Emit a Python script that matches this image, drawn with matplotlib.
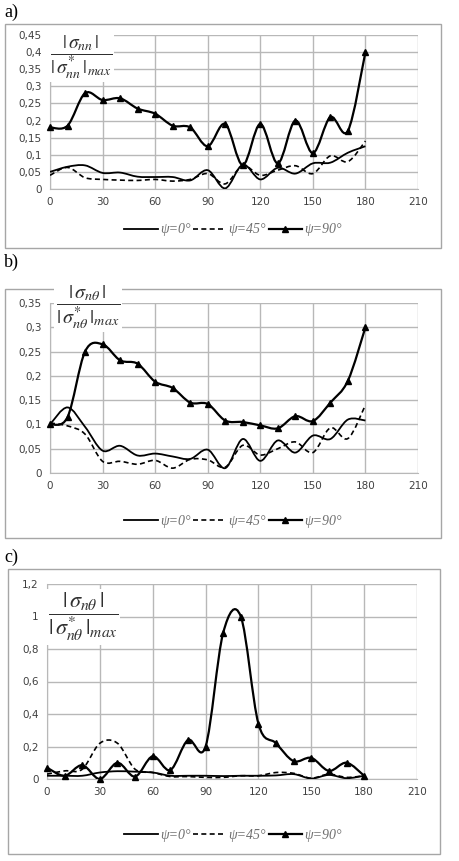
import matplotlib
matplotlib.use("Agg")
import matplotlib.pyplot as plt
from matplotlib.path import Path
from matplotlib.patches import PathPatch, Rectangle
from matplotlib.lines import Line2D
import numpy as np

plt.rcParams['mathtext.fontset'] = 'stix'

# angle values (deg)
angles = list(range(0, 190, 10))
x_ticks = [0, 30, 60, 90, 120, 150, 180, 210]

# panel a) |sigma_nn| / |sigma*_nn|max
a_psi0 = [0.050, 0.065, 0.069, 0.047, 0.048, 0.036, 0.035, 0.035, 0.025, 0.055,
          0.002, 0.071, 0.028, 0.062, 0.045, 0.075, 0.077, 0.106, 0.125]
a_psi45 = [0.040, 0.063, 0.033, 0.028, 0.026, 0.025, 0.028, 0.023, 0.028, 0.045,
           0.015, 0.068, 0.040, 0.055, 0.068, 0.045, 0.097, 0.080, 0.140]
a_psi90 = [0.180, 0.185, 0.280, 0.260, 0.265, 0.235, 0.220, 0.185, 0.180, 0.125,
           0.190, 0.070, 0.190, 0.075, 0.200, 0.105, 0.210, 0.170, 0.400]
a_yticks = [0, 0.05, 0.1, 0.15, 0.2, 0.25, 0.3, 0.35, 0.4, 0.45]

# panel b) |sigma_ntheta| / |sigma*_ntheta|max
b_psi0 = [0.100, 0.135, 0.095, 0.046, 0.056, 0.036, 0.040, 0.034, 0.029, 0.048,
          0.010, 0.070, 0.025, 0.067, 0.042, 0.077, 0.070, 0.110, 0.108]
b_psi45 = [0.103, 0.097, 0.080, 0.024, 0.024, 0.018, 0.026, 0.010, 0.028, 0.027,
           0.012, 0.057, 0.037, 0.050, 0.064, 0.042, 0.093, 0.071, 0.140]
b_psi90 = [0.100, 0.115, 0.250, 0.265, 0.232, 0.225, 0.188, 0.175, 0.145, 0.142,
           0.108, 0.105, 0.098, 0.092, 0.117, 0.107, 0.145, 0.190, 0.300]
b_yticks = [0, 0.05, 0.1, 0.15, 0.2, 0.25, 0.3, 0.35]

# panel c)
c_psi0 = [0.020, 0.020, 0.020, 0.040, 0.048, 0.045, 0.040, 0.020, 0.020, 0.020,
          0.018, 0.020, 0.020, 0.022, 0.030, 0.003, 0.025, 0.005, 0.020]
c_psi45 = [0.030, 0.050, 0.060, 0.220, 0.220, 0.060, 0.040, 0.015, 0.015, 0.010,
           0.010, 0.020, 0.020, 0.040, 0.035, 0.005, 0.030, 0.010, 0.020]
c_psi90 = [0.070, 0.020, 0.085, 0.000, 0.100, 0.015, 0.140, 0.055, 0.240, 0.200,
           0.900, 1.000, 0.340, 0.220, 0.110, 0.130, 0.050, 0.100, 0.020]
c_yticks = [0, 0.2, 0.4, 0.6, 0.8, 1.0, 1.2]

legend_labels = ['ψ=0°', 'ψ=45°', 'ψ=90°']

W, H = 459, 861
fig = plt.figure(figsize=(W / 100, H / 100), dpi=100)
fig.patch.set_facecolor('white')


def px(x0, y0, x1, y1):
    # pixel box -> figure fraction [left, bottom, width, height]
    return [x0 / W, 1 - y1 / H, (x1 - x0) / W, (y1 - y0) / H]


def smooth(ax, xs, ys, **kw):
    # Excel-like smoothed line: Catmull-Rom segments as cubic Bezier path
    p = np.column_stack([xs, ys]).astype(float)
    pts = [p[0]]
    codes = [Path.MOVETO]
    n = len(p)
    for i in range(n - 1):
        p0 = p[i - 1] if i > 0 else p[i]
        p3 = p[i + 2] if i + 2 < n else p[i + 1]
        c1 = p[i] + (p[i + 1] - p0) / 6
        c2 = p[i + 1] - (p3 - p[i]) / 6
        pts += [c1, c2, p[i + 1]]
        codes += [Path.CURVE4] * 3
    ax.add_patch(PathPatch(Path(pts, codes), fill=False, **kw))


def fmt(v):
    return ('%g' % v).replace('.', ',')


def panel(box, frame, tag, tag_y, yticks, s0, s45, s90, label, lab_xy, lab_size, leg_y):
    fig.patches.append(Rectangle((frame[0] / W, 1 - frame[3] / H),
                                 (frame[2] - frame[0]) / W, (frame[3] - frame[1]) / H,
                                 transform=fig.transFigure, fill=False,
                                 edgecolor='#a6a6a6', lw=1.0, zorder=0))
    fig.text(4 / W, 1 - tag_y / H, tag, fontsize=13, family='Liberation Serif',
             va='center', ha='left')
    ax = fig.add_axes(px(*box))
    ax.set_xlim(0, 210)
    ax.set_ylim(0, yticks[-1])
    ax.set_xticks(x_ticks)
    ax.set_xticklabels([str(t) for t in x_ticks])
    ax.set_yticks(yticks)
    ax.set_yticklabels([fmt(t) for t in yticks])
    ax.grid(True, color='#b8b8b8', lw=1.0)
    ax.set_axisbelow(True)
    for s in ['top', 'right']:
        ax.spines[s].set_visible(False)
    for s in ['left', 'bottom']:
        ax.spines[s].set_color('#b8b8b8')
    ax.tick_params(length=0, labelsize=7.5, colors='#404040', pad=6)
    ax.patch.set_alpha(0)
    smooth(ax, angles, s0, edgecolor='black', lw=1.3, zorder=3)
    smooth(ax, angles, s45, edgecolor='black', lw=1.2, ls=(0, (3, 2)), zorder=3)
    smooth(ax, angles, s90, edgecolor='black', lw=1.6, zorder=4)
    ax.plot(angles, s90, ls='none', marker='^', ms=5, color='black', zorder=5,
            clip_on=False)
    fig.text(lab_xy[0] / W, 1 - lab_xy[1] / H, label, fontsize=lab_size,
             color='#303030', ha='center', va='center',
             bbox=dict(facecolor='white', edgecolor='none', pad=1), zorder=6)
    handles = [Line2D([], [], color='black', lw=1.3),
               Line2D([], [], color='black', lw=1.2, ls=(0, (3, 2))),
               Line2D([], [], color='black', lw=1.6, marker='^', ms=5)]
    fig.legend(handles, legend_labels, loc='center', ncol=3,
               bbox_to_anchor=(233 / W, 1 - leg_y / H), frameon=False,
               handlelength=2.4, columnspacing=0.2, handletextpad=0.15,
               prop=dict(family='Liberation Serif', style='italic', size=10),
               labelcolor='#707070')
    return ax


panel((50, 35, 418, 189), (5, 24, 441, 248), 'a)', 12, a_yticks,
      a_psi0, a_psi45, a_psi90,
      r'$\dfrac{|\,\sigma_{nn}\,|}{|\,\sigma^{*}_{nn}\,|_{max}}$', (81, 57), 14, 230)
panel((50, 303, 418, 473), (5, 289, 441, 538), 'b)', 262, b_yticks,
      b_psi0, b_psi45, b_psi90,
      r'$\dfrac{|\,\sigma_{n\theta}\,|}{|\,\sigma^{*}_{n\theta}\,|_{max}}$', (88, 307), 14.5, 521)
panel((47, 584, 417, 779), (8, 569, 440, 854), 'c)', 557, c_yticks,
      c_psi0, c_psi45, c_psi90,
      r'$\dfrac{|\,\sigma_{n\theta}\,|}{|\,\sigma^{*}_{n\theta}\,|_{max}}$', (83, 617), 16, 835)

fig.savefig('out.png', dpi=100, facecolor='white')
